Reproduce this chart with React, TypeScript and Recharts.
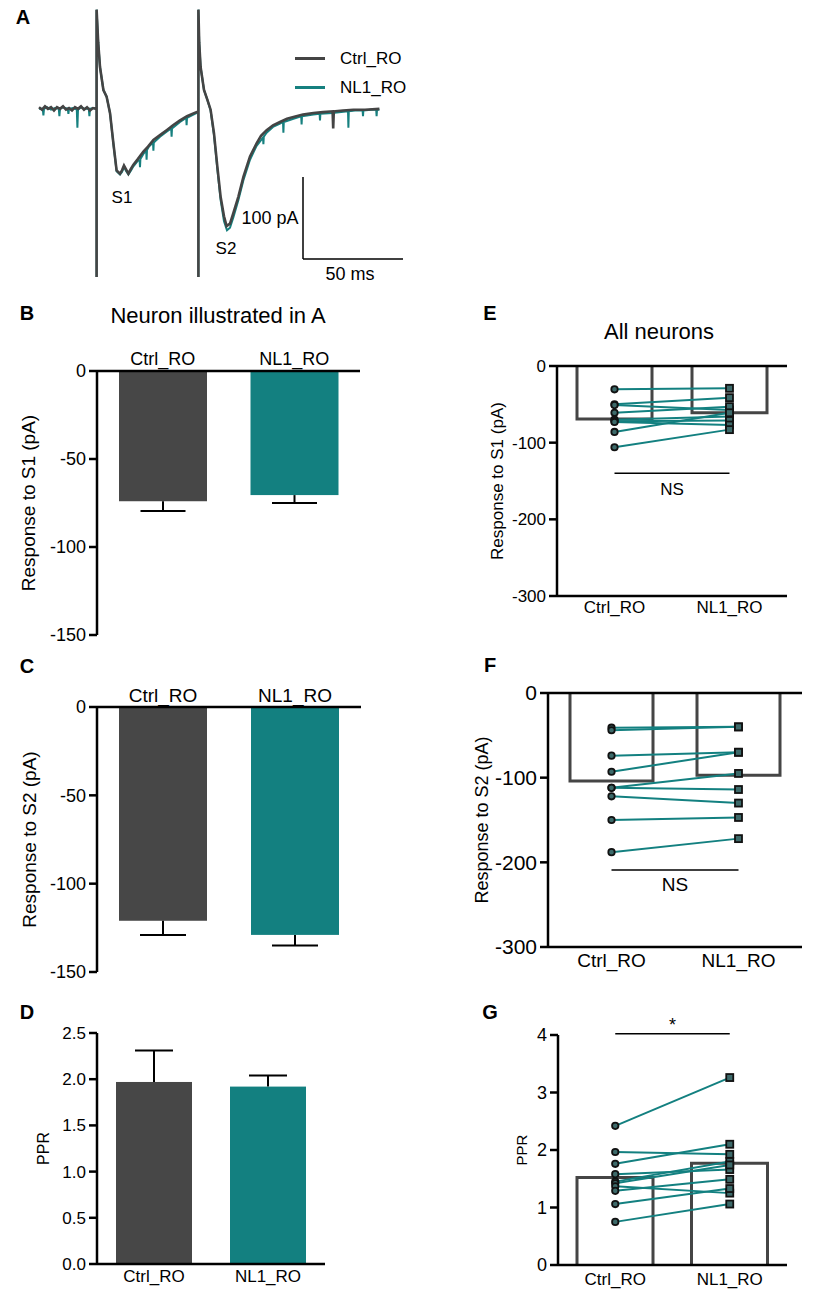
import React from 'react'
import { BarChart, Bar, ComposedChart, LineChart, Line, XAxis, YAxis, ReferenceLine } from 'recharts'

const FONT = '"Liberation Sans", Arial, Helvetica, sans-serif'
const GREY = '#474747'
const TEAL = '#138080'
const OUTLINE = '#454545'
const barColors = [GREY, TEAL]

const groups = ['Ctrl_RO', 'NL1_RO']

// B, C, D: the single neuron shown in A (mean, one-sided error)
const s1Mean = [-74, -70.5]
const s1Err = [5.5, 4.5]
const s2Mean = [-121, -129]
const s2Err = [8, 6]
const pprMean = [1.97, 1.92]
const pprErr = [0.34, 0.12]

// E, F, G: all neurons, paired values
const allS1Mean = [-69, -61]
const allS1Ctrl = [-30.4, -50, -51, -61, -70, -72, -73, -86, -106]
const allS1Nl1 = [-29.1, -41.3, -57.4, -53, -66, -71, -77, -61, -83]

const allS2Mean = [-104, -97]
const allS2Ctrl = [-41, -44, -74, -93, -112, -112, -122, -150, -188]
const allS2Nl1 = [-40, -40, -70, -70, -95, -114, -130, -147, -172]

const allPprMean = [1.52, 1.77]
const allPprCtrl = [2.42, 1.965, 1.76, 1.58, 1.45, 1.42, 1.37, 1.29, 1.06, 0.75]
const allPprNl1 = [3.26, 1.925, 2.1, 1.66, 1.8, 1.74, 1.25, 1.49, 1.33, 1.06]

const s1Ticks = [-150, -100, -50, 0]
const pprTicks = [0, 0.5, 1, 1.5, 2, 2.5]
const allTicks = [-300, -200, -100, 0]
const gTicks = [0, 1, 2, 3, 4]

// A: example traces, [time ms, current pA]
const ctrlTrace = [
  [0, 1], [1.5, -2], [3, 2], [4.5, -1], [6, 1], [7.5, -3], [9, 1], [10.5, -1], [12, 2], [13.5, -2], [15, 0],
  [16.5, -3], [18, 1], [19.5, -1], [21, 2], [22.5, -2], [24, 1], [25.5, -3], [27, 0], [28.8, -1],
  [28.8, -206], [28.8, 120], [29.6, 80], [30.5, 50], [32.2, 22], [33.8, 14], [35.5, -6], [37.2, -43], [38.8, -76],
  [40.5, -80], [41.5, -76], [42.5, -70], [43.6, -75], [44.7, -80], [46, -74], [47.2, -69], [49.5, -62], [52.2, -53],
  [54.5, -47], [57.2, -39], [60.5, -33], [63.8, -27], [67, -21], [70.5, -15], [74, -10], [77.2, -6.5], [79.7, -4],
  [79.7, -206], [79.7, 120], [80.1, 80], [80.8, 50], [82.5, 22], [84.2, 10], [85.8, -2], [87.5, -31], [89.2, -72],
  [90.8, -108], [92.5, -132], [93.8, -144], [95.5, -141], [97.2, -128], [99.7, -108], [102.2, -84], [105.5, -59],
  [108.8, -43], [111, -34], [113.8, -27], [117, -21], [120.5, -17], [124, -13], [127.2, -11], [132, -8], [137.2, -6],
  [142, -5], [146.8, -4], [147.1, -25], [147.4, -4], [152, -3], [157.2, -2], [163, -2], [170.2, -1],
]

const nl1Trace = [
  [0, -1], [1.9, -1], [2.2, -9], [2.5, -1], [4, 1], [6, -2], [8, 0], [9.9, -1], [10.2, -10], [10.5, -1], [12, 1],
  [14.4, -1], [14.7, -7], [15, -1], [17, 0], [18.9, -2], [19.2, -24], [19.5, -2], [21, 1], [23, -1], [24.9, -1],
  [25.2, -10], [25.5, -1], [27, 0], [28.8, -1],
  [28.8, -206], [28.8, 120], [29.6, 80], [30.5, 50], [32.2, 22], [33.8, 14], [35.5, -6], [37.2, -44], [38.8, -77],
  [40.5, -81], [41.5, -78], [42.5, -72], [43.6, -77], [44.7, -81], [46, -76], [47.2, -71], [49.5, -64], [50.3, -64],
  [50.5, -72], [50.7, -62], [52.2, -56], [53.6, -52], [53.8, -63], [54, -51], [55, -47], [57, -42], [57.2, -52],
  [57.4, -42], [60.5, -35], [63.8, -29], [66.1, -25], [66.3, -35], [66.5, -25], [70.5, -17], [73.6, -12], [73.8, -21],
  [74, -12], [77.2, -8], [79.7, -5],
  [79.7, -206], [79.7, 120], [80.1, 80], [80.8, 50], [82.5, 22], [84.2, 10], [85.8, -3], [87.5, -33], [89.2, -75],
  [90.8, -112], [92.5, -138], [94, -149], [95.5, -146], [97.2, -133], [99.7, -112], [102.2, -88], [105.5, -63],
  [108.8, -46], [112, -36], [112.2, -44], [112.4, -35], [113.8, -30], [117, -23], [120.5, -19], [122, -17], [122.2, -30],
  [122.4, -17], [127.2, -13], [131.1, -10], [131.3, -20], [131.5, -10], [137.2, -8], [140.3, -7], [140.5, -15],
  [140.7, -7], [146.8, -6], [150, -5], [154.5, -4], [154.7, -24], [154.9, -4], [158, -3], [161.8, -3], [162, -10],
  [162.2, -3], [166, -2], [168.6, -2], [168.8, -10], [169, -2], [170.2, -2],
]

const toPoints = (arr: number[][]) => arr.map(([t, v]) => ({ t, v }))

const meanRows = (means: number[], errs: number[]) =>
  groups.map((group, i) => ({ group, mean: means[i], err: errs[i] }))

const pairedRows = (means: number[], ctrl: number[], nl1: number[]) =>
  groups.map((group, i) => {
    const row: any = { group, mean: means[i] }
    const src = i === 0 ? ctrl : nl1
    src.forEach((v, j) => {
      row['n' + j] = v
    })
    return row
  })

// filled bar with a one-sided error bar pointing away from zero
const solidBar = (capW: number) => (p: any) => {
  const { x, y, width, height, payload, index } = p
  const top = Math.min(y, y + height)
  const h = Math.abs(height)
  const v = payload.mean
  const k = v !== 0 ? h / Math.abs(v) : 0
  const end = v < 0 ? top + h : top
  const tip = v < 0 ? end + payload.err * k : end - payload.err * k
  const cx = x + width / 2
  return (
    <g>
      <rect x={x} y={top} width={width} height={h} fill={barColors[index] || GREY} />
      <line x1={cx} x2={cx} y1={end} y2={tip} stroke="#000" strokeWidth={2} />
      <line x1={cx - capW / 2} x2={cx + capW / 2} y1={tip} y2={tip} stroke="#000" strokeWidth={2} />
    </g>
  )
}

// open bar: three sides, the side on the zero line left out
const openBar = (p: any) => {
  const { x, y, width, height, payload } = p
  const top = Math.min(y, y + height)
  const bottom = top + Math.abs(height)
  const d =
    payload.mean < 0
      ? `M${x},${top} L${x},${bottom} L${x + width},${bottom} L${x + width},${top}`
      : `M${x},${bottom} L${x},${top} L${x + width},${top} L${x + width},${bottom}`
  return <path d={d} fill="none" stroke={OUTLINE} strokeWidth={3} />
}

const pairDot = (p: any) => {
  const { cx, cy, index, key } = p
  if (cx == null || cy == null) return <g key={key} />
  if (index === 0) {
    return <circle key={key} cx={cx} cy={cy} r={3.2} fill="#3d6a6a" stroke="#111" strokeWidth={1.8} />
  }
  return <rect key={key} x={cx - 3.5} y={cy - 3.5} width={7} height={7} fill="#3d6a6a" stroke="#111" strokeWidth={1.8} />
}

const yLabel = (text: string, cx: number, size: number) => (props: any) => {
  const vb = props.viewBox || { y: 0, height: 0 }
  const cy = vb.y + vb.height / 2
  return (
    <text
      x={cx}
      y={cy}
      transform={`rotate(-90, ${cx}, ${cy})`}
      textAnchor="middle"
      dominantBaseline="central"
      fontSize={size}
      fontFamily={FONT}
      fill="#000"
    >
      {text}
    </text>
  )
}

const axisStroke = { stroke: '#000', strokeWidth: 2.5 }

function Txt({ x, y, size, bold, left, children }: any) {
  return (
    <div
      style={{
        position: 'absolute',
        left: x,
        top: y,
        transform: left ? 'translate(0, -50%)' : 'translate(-50%, -50%)',
        fontSize: size,
        fontWeight: bold ? 'bold' : 'normal',
        lineHeight: 1,
        whiteSpace: 'nowrap',
        color: '#000',
      }}
    >
      {children}
    </div>
  )
}

function Box({ left, top, children }: any) {
  return <div style={{ position: 'absolute', left, top }}>{children}</div>
}

function TraceChart() {
  return (
    <LineChart width={440} height={290} margin={{ top: 8, right: 21, bottom: 1.56, left: 39 }}>
      <XAxis type="number" dataKey="t" domain={[0, 190]} hide />
      <YAxis type="number" domain={[-220, 122]} hide allowDataOverflow />
      <Line
        data={toPoints(nl1Trace)}
        dataKey="v"
        stroke="#16807f"
        strokeWidth={2}
        dot={false}
        activeDot={false}
        isAnimationActive={false}
      />
      <Line
        data={toPoints(ctrlTrace)}
        dataKey="v"
        stroke="#444"
        strokeWidth={2.6}
        dot={false}
        activeDot={false}
        isAnimationActive={false}
      />
      <ReferenceLine segment={[{ x: 132, y: -84 }, { x: 132, y: -184 }]} stroke="#000" strokeWidth={1.5} />
      <ReferenceLine segment={[{ x: 132, y: -184 }, { x: 182, y: -184 }]} stroke="#000" strokeWidth={1.5} />
    </LineChart>
  )
}

function SingleBars({ rows, width, height, margin, ticks, domain, label, labelX, labelSize, tickSize, catSize, top, catMargin, capW, barSize, fmt }: any) {
  return (
    <BarChart width={width} height={height} data={rows} margin={margin}>
      <XAxis
        dataKey="group"
        orientation={top ? 'top' : 'bottom'}
        height={top ? 41 : 30}
        axisLine={axisStroke}
        tickLine={false}
        tickSize={0}
        tickMargin={catMargin}
        tick={{ fontSize: catSize, fill: '#000', fontFamily: FONT }}
      />
      <YAxis
        width={97}
        domain={domain}
        ticks={ticks}
        interval={0}
        axisLine={axisStroke}
        tickLine={axisStroke}
        tickSize={8}
        tickMargin={3}
        tickFormatter={fmt}
        tick={{ fontSize: tickSize, fill: '#000', fontFamily: FONT }}
        label={{ content: yLabel(label, labelX, labelSize) }}
      />
      <Bar dataKey="mean" barSize={barSize} shape={solidBar(capW)} isAnimationActive={false} />
    </BarChart>
  )
}

function PairedChart({ rows, count, width, height, margin, ticks, domain, label, labelX, labelSize, tickSize, catSize, catMargin, barSize, sig, sigY, sigSize, sigOffset, sigPos, xHeight }: any) {
  const lines = []
  for (let j = 0; j < count; j++) {
    lines.push(
      <Line
        key={j}
        dataKey={'n' + j}
        stroke={TEAL}
        strokeWidth={2}
        dot={pairDot}
        activeDot={false}
        isAnimationActive={false}
      />
    )
  }
  return (
    <ComposedChart width={width} height={height} data={rows} margin={margin}>
      <XAxis
        dataKey="group"
        height={xHeight}
        axisLine={axisStroke}
        tickLine={false}
        tickSize={0}
        tickMargin={catMargin}
        tick={{ fontSize: catSize, fill: '#000', fontFamily: FONT }}
      />
      <YAxis
        width={97}
        domain={domain}
        ticks={ticks}
        interval={0}
        axisLine={axisStroke}
        tickLine={axisStroke}
        tickSize={8}
        tickMargin={3}
        tick={{ fontSize: tickSize, fill: '#000', fontFamily: FONT }}
        label={{ content: yLabel(label, labelX, labelSize) }}
      />
      <Bar dataKey="mean" barSize={barSize} shape={openBar} isAnimationActive={false} />
      {domain[1] === 0 && <ReferenceLine y={0} stroke="#000" strokeWidth={2.5} />}
      <ReferenceLine
        segment={[{ x: groups[0], y: sigY }, { x: groups[1], y: sigY }]}
        stroke="#000"
        strokeWidth={1.5}
        ifOverflow="visible"
        label={{ value: sig, position: sigPos, offset: sigOffset, fontSize: sigSize, fill: '#000', fontFamily: FONT }}
      />
      {lines}
    </ComposedChart>
  )
}

export default function App() {
  return (
    <div
      style={{
        position: 'absolute',
        left: 0,
        top: 0,
        width: 818,
        height: 1300,
        background: '#fff',
        fontFamily: FONT,
        overflow: 'hidden',
      }}
    >
      {/* A */}
      <Box left={0} top={0}>
        <TraceChart />
      </Box>
      <Txt x={23} y={17} size={20} bold>A</Txt>
      <div style={{ position: 'absolute', left: 295, top: 56.5, width: 30, height: 3, background: '#444' }} />
      <div style={{ position: 'absolute', left: 295, top: 85.5, width: 30, height: 3, background: '#16807f' }} />
      <Txt x={340} y={58} size={17} left>Ctrl_RO</Txt>
      <Txt x={340} y={87} size={17} left>NL1_RO</Txt>
      <Txt x={122} y={197} size={17}>S1</Txt>
      <Txt x={226} y={248} size={17}>S2</Txt>
      <Txt x={270} y={218} size={18}>100 pA</Txt>
      <Txt x={350} y={274} size={18}>50 ms</Txt>

      {/* B */}
      <Txt x={27} y={313} size={20} bold>B</Txt>
      <Txt x={218} y={316} size={22}>Neuron illustrated in A</Txt>
      <Box left={0} top={330}>
        <SingleBars
          rows={meanRows(s1Mean, s1Err)}
          width={380}
          height={315}
          margin={{ top: 0, right: 20, bottom: 10, left: 0 }}
          ticks={s1Ticks}
          domain={[-150, 0]}
          label="Response to S1 (pA)"
          labelX={28}
          labelSize={19}
          tickSize={18}
          catSize={18}
          top
          catMargin={6}
          capW={45}
          barSize={88}
        />
      </Box>

      {/* C */}
      <Txt x={27} y={666} size={20} bold>C</Txt>
      <Box left={0} top={666}>
        <SingleBars
          rows={meanRows(s2Mean, s2Err)}
          width={381}
          height={316}
          margin={{ top: 0, right: 20, bottom: 10, left: 0 }}
          ticks={s1Ticks}
          domain={[-150, 0]}
          label="Response to S2 (pA)"
          labelX={29}
          labelSize={19}
          tickSize={18}
          catSize={19}
          top
          catMargin={5}
          capW={46}
          barSize={88}
        />
      </Box>

      {/* D */}
      <Txt x={27} y={1012} size={20} bold>D</Txt>
      <Box left={0} top={1021}>
        <SingleBars
          rows={meanRows(pprMean, pprErr)}
          width={345}
          height={273}
          margin={{ top: 12, right: 20, bottom: 0, left: 0 }}
          ticks={pprTicks}
          domain={[0, 2.5]}
          label="PPR"
          labelX={43}
          labelSize={16}
          tickSize={17}
          catSize={17}
          catMargin={6}
          capW={38}
          barSize={76}
          fmt={(v: number) => v.toFixed(1)}
        />
      </Box>

      {/* E */}
      <Txt x={490} y={313} size={20} bold>E</Txt>
      <Txt x={659} y={332} size={22}>All neurons</Txt>
      <Box left={460} top={354}>
        <PairedChart
          rows={pairedRows(allS1Mean, allS1Ctrl, allS1Nl1)}
          count={allS1Ctrl.length}
          width={347}
          height={272}
          margin={{ top: 12, right: 20, bottom: 0, left: 0 }}
          ticks={allTicks}
          domain={[-300, 0]}
          label="Response to S1 (pA)"
          labelX={37}
          labelSize={17}
          tickSize={17}
          catSize={17}
          catMargin={5}
          xHeight={30}
          barSize={75}
          sig="NS"
          sigY={-140}
          sigSize={17}
          sigOffset={10}
          sigPos="bottom"
        />
      </Box>

      {/* F */}
      <Txt x={490} y={665} size={20} bold>F</Txt>
      <Box left={451} top={679}>
        <PairedChart
          rows={pairedRows(allS2Mean, allS2Ctrl, allS2Nl1)}
          count={allS2Ctrl.length}
          width={367}
          height={303}
          margin={{ top: 14, right: 16, bottom: 0, left: 0 }}
          ticks={allTicks}
          domain={[-300, 0]}
          label="Response to S2 (pA)"
          labelX={31}
          labelSize={18}
          tickSize={21}
          catSize={19}
          catMargin={7}
          xHeight={35}
          barSize={83}
          sig="NS"
          sigY={-209}
          sigSize={19}
          sigOffset={8}
          sigPos="bottom"
        />
      </Box>

      {/* G */}
      <Txt x={490} y={1012} size={20} bold>G</Txt>
      <Box left={461} top={1005}>
        <PairedChart
          rows={pairedRows(allPprMean, allPprCtrl, allPprNl1)}
          count={allPprCtrl.length}
          width={346}
          height={295}
          margin={{ top: 30, right: 20, bottom: 0, left: 0 }}
          ticks={gTicks}
          domain={[0, 4]}
          label="PPR"
          labelX={60}
          labelSize={15}
          tickSize={18}
          catSize={17}
          catMargin={8}
          xHeight={35}
          barSize={76}
          sig="*"
          sigY={4.02}
          sigSize={18}
          sigOffset={3}
          sigPos="top"
        />
      </Box>
    </div>
  )
}
